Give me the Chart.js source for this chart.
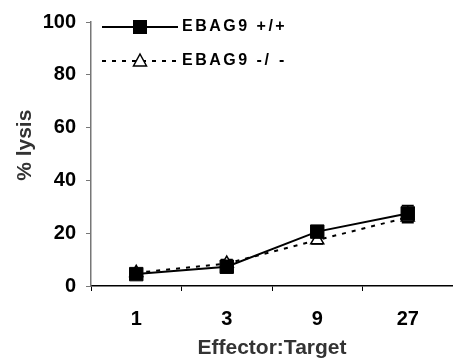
<!DOCTYPE html>
<html>
<head>
<meta charset="utf-8">
<script src="https://cdn.jsdelivr.net/npm/chart.js@4.4.1/dist/chart.umd.min.js"></script>
<style>
  html, body { margin: 0; padding: 0; background: #fff; }
  canvas { display: block; }
</style>
</head>
<body>
<canvas id="lysisChart" width="453" height="358"></canvas>
<script>
// Data
const ratios = ["1", "3", "9", "27"];
const wildType = [4.5, 7.3, 20.6, 27.5];     // EBAG9 +/+
const wildTypeErr = [1.0, 1.0, 1.5, 3.0];
const knockOut = [5.0, 8.5, 17.4, 26.0];     // EBAG9 -/-
const knockOutErr = [1.0, 1.5, 1.5, 2.0];
const yTicks = [0, 20, 40, 60, 80, 100];

const FONT = "'Liberation Sans', Arial, sans-serif";

// Helper: draw vertical error bars with caps under each point.
const errorBars = {
    id: "errorBars",
    beforeDatasetsDraw(chart) {
        const ctx = chart.ctx;
        const y = chart.scales.y;
        const errs = [wildTypeErr, knockOutErr];
        ctx.save();
        ctx.strokeStyle = "#000";
        ctx.lineWidth = 1.5;
        chart.data.datasets.forEach((ds, i) => {
            const meta = chart.getDatasetMeta(i);
            ds.data.forEach((v, j) => {
                const x = meta.data[j].x;
                const top = y.getPixelForValue(v + errs[i][j]);
                const bot = y.getPixelForValue(v - errs[i][j]);
                ctx.beginPath();
                ctx.moveTo(x, top);
                ctx.lineTo(x, bot);
                ctx.moveTo(x - 6, top);
                ctx.lineTo(x + 6, top);
                ctx.moveTo(x - 6, bot);
                ctx.lineTo(x + 6, bot);
                ctx.stroke();
            });
        });
        ctx.restore();
    },
};

// Helper: legend inside the plot, line + marker + label.
const insideLegend = {
    id: "insideLegend",
    afterDraw(chart) {
        const ctx = chart.ctx;
        ctx.save();
        ctx.strokeStyle = "#000";
        ctx.lineWidth = 2;

        // solid line with filled square
        ctx.beginPath();
        ctx.moveTo(102, 27);
        ctx.lineTo(178, 27);
        ctx.stroke();
        ctx.fillStyle = "#000";
        ctx.fillRect(133, 20, 14, 14);

        // dashed line with open triangle
        ctx.setLineDash([4, 6]);
        ctx.beginPath();
        ctx.moveTo(102, 61);
        ctx.lineTo(178, 61);
        ctx.stroke();
        ctx.setLineDash([]);
        ctx.fillStyle = "#fff";
        ctx.lineWidth = 1.5;
        ctx.beginPath();
        ctx.moveTo(140, 54);
        ctx.lineTo(146.5, 66);
        ctx.lineTo(133.5, 66);
        ctx.closePath();
        ctx.fill();
        ctx.stroke();

        ctx.fillStyle = "#000";
        ctx.font = "bold 16px " + FONT;
        ctx.letterSpacing = "2.5px";
        ctx.textBaseline = "middle";
        ctx.fillText("EBAG9 +/+", 182, 27);
        ctx.fillText("EBAG9 -/", 182, 61);
        ctx.fillText("-", 279, 61);
        ctx.restore();
    },
};

new Chart(document.getElementById("lysisChart").getContext("2d"), {
    type: "line",
    data: {
        labels: ratios,
        datasets: [
            {
                label: "EBAG9 +/+",
                data: wildType,
                borderColor: "#000",
                borderWidth: 2,
                pointStyle: "rect",
                pointRadius: 9.5,
                pointBackgroundColor: "#000",
                pointBorderColor: "#000",
                pointBorderWidth: 1,
                fill: false,
                tension: 0,
            },
            {
                label: "EBAG9 -/-",
                data: knockOut,
                borderColor: "#000",
                borderWidth: 2,
                borderDash: [4, 6],
                pointStyle: "triangle",
                pointRadius: 7.5,
                pointBackgroundColor: "#fff",
                pointBorderColor: "#000",
                pointBorderWidth: 1.5,
                fill: false,
                tension: 0,
            },
        ],
    },
    options: {
        responsive: false,
        animation: false,
        layout: { autoPadding: false, padding: { top: 22, right: 0, bottom: 0, left: 0 } },
        plugins: {
            legend: { display: false },
            tooltip: { enabled: false },
        },
        scales: {
            x: {
                offset: true,
                grid: { offset: true, drawOnChartArea: false, tickLength: 5, color: "#000" },
                border: { color: "#000", width: 1.5 },
                ticks: { color: "#000", font: { family: FONT, size: 20, weight: "bold" }, padding: 16 },
                title: {
                    display: true,
                    text: "Effector:Target",
                    color: "#333",
                    font: { family: FONT, size: 21, weight: "bold" },
                    padding: { top: 0, bottom: -3 },
                },
                afterFit: (s) => {
                    s.height = 72;
                    s.paddingLeft = 0;
                    s.paddingRight = 0;
                },
            },
            y: {
                min: 0,
                max: 100,
                afterBuildTicks: (s) => { s.ticks = yTicks.map((v) => ({ value: v })); },
                grid: { drawOnChartArea: false, tickLength: 5, color: "#777" },
                border: { color: "#777", width: 1.5 },
                ticks: { color: "#000", font: { family: FONT, size: 20, weight: "bold" }, padding: 10 },
                title: {
                    display: true,
                    text: "   % lysis",
                    color: "#333",
                    font: { family: FONT, size: 21, weight: "bold" },
                    padding: { top: 13, bottom: 0 },
                },
                afterFit: (s) => { s.width = 91; },
            },
        },
    },
    plugins: [errorBars, insideLegend],
});
</script>
</body>
</html>
